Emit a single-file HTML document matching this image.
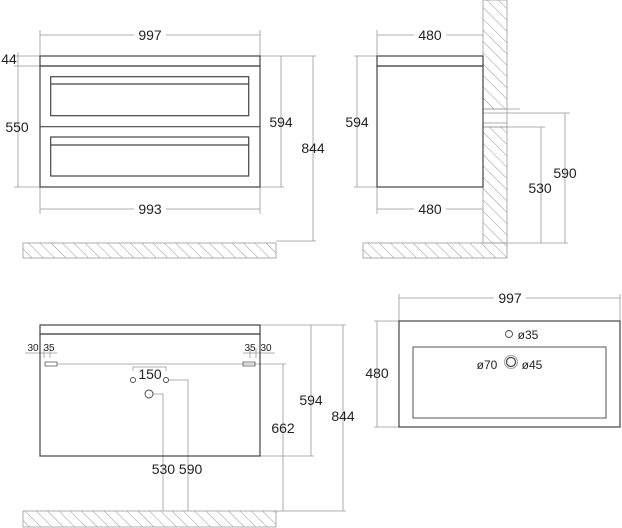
<!DOCTYPE html>
<html><head><style>body{margin:0;background:#fff}svg{display:block}text{font-family:"Liberation Sans",sans-serif;fill:#222}</style></head>
<body>
<svg width="622" height="528" viewBox="0 0 622 528" xmlns="http://www.w3.org/2000/svg">
<defs>
<pattern id="h" width="8" height="8" patternUnits="userSpaceOnUse" patternTransform="rotate(-45)">
<line x1="0" y1="0" x2="0" y2="8" stroke="#999" stroke-width="1"/>
</pattern>
</defs>
<g fill="none" stroke="#999" stroke-width="0.8">
<rect x="23" y="243" width="253" height="15" fill="url(#h)"/>
<rect x="363" y="243" width="144" height="15" fill="url(#h)"/>
<rect x="483" y="0" width="24" height="109" fill="url(#h)"/>
<rect x="483" y="127" width="24" height="116" fill="url(#h)"/>
<line x1="483" y1="109" x2="520" y2="109"/><line x1="483" y1="113" x2="570" y2="113"/>
<line x1="483" y1="123" x2="507" y2="123"/><line x1="483" y1="127" x2="545" y2="127"/>
<line x1="483" y1="109" x2="483" y2="127"/><line x1="507" y1="109" x2="507" y2="127"/>
<rect x="23" y="511" width="253" height="16" fill="url(#h)"/>
<line x1="40" y1="35" x2="260" y2="35"/><line x1="40" y1="30" x2="40" y2="56"/><line x1="260" y1="30" x2="260" y2="56"/>
<line x1="40" y1="209" x2="260" y2="209"/><line x1="40" y1="187" x2="40" y2="214"/><line x1="260" y1="187" x2="260" y2="214"/>
<line x1="18" y1="52" x2="18" y2="187"/><line x1="14" y1="56" x2="40" y2="56"/><line x1="14" y1="66" x2="40" y2="66"/><line x1="14" y1="187" x2="40" y2="187"/>
<line x1="281" y1="56" x2="281" y2="187"/><line x1="260" y1="56" x2="284" y2="56"/><line x1="260" y1="187" x2="284" y2="187"/>
<line x1="313" y1="56" x2="313" y2="241"/><line x1="284" y1="56" x2="316" y2="56"/><line x1="276" y1="241" x2="316" y2="241"/>
<line x1="377" y1="35" x2="483" y2="35"/><line x1="377" y1="30" x2="377" y2="56"/>
<line x1="377" y1="209" x2="483" y2="209"/><line x1="377" y1="187" x2="377" y2="214"/>
<line x1="357" y1="56" x2="357" y2="187"/><line x1="354" y1="56" x2="377" y2="56"/><line x1="354" y1="187" x2="377" y2="187"/>
<line x1="565" y1="113" x2="565" y2="243"/><line x1="541" y1="127" x2="541" y2="243"/><line x1="507" y1="243" x2="568" y2="243"/>
<line x1="25" y1="353" x2="57" y2="353"/><line x1="243" y1="353" x2="275" y2="353"/>
<line x1="44" y1="348" x2="44" y2="358"/><line x1="50" y1="348" x2="50" y2="358"/>
<line x1="250" y1="348" x2="250" y2="358"/><line x1="256" y1="348" x2="256" y2="358"/>
<line x1="57" y1="364" x2="286" y2="364"/>
<polyline points="133,371 133,367 166,367 166,371"/>
<polyline points="169,380 188,380 188,511"/>
<polyline points="153,394 163,394 163,511"/>
<line x1="283" y1="364" x2="283" y2="511"/>
<line x1="260" y1="325" x2="346" y2="325"/><line x1="260" y1="456" x2="314" y2="456"/>
<line x1="311" y1="325" x2="311" y2="456"/><line x1="343" y1="325" x2="343" y2="511"/>
<line x1="276" y1="511" x2="346" y2="511"/>
<line x1="399" y1="298" x2="620" y2="298"/><line x1="399" y1="294" x2="399" y2="321"/><line x1="620" y1="294" x2="620" y2="321"/>
<line x1="377" y1="321" x2="377" y2="427"/><line x1="374" y1="321" x2="399" y2="321"/><line x1="374" y1="427" x2="399" y2="427"/>
</g>
<g fill="none" stroke="#444" stroke-width="1.2">
<rect x="40" y="56" width="220" height="10"/><rect x="40" y="66" width="220" height="121"/>
<line x1="40" y1="126.7" x2="260" y2="126.7"/>
<rect x="50.7" y="76.7" width="198" height="39"/><line x1="50.7" y1="84" x2="248.7" y2="84"/>
<rect x="50.7" y="137" width="198" height="39"/><line x1="50.7" y1="145" x2="248.7" y2="145"/>
<rect x="377" y="56" width="106" height="10"/><rect x="377" y="66" width="106" height="121"/>
<rect x="40" y="325" width="220" height="9"/><rect x="40" y="334" width="220" height="122"/>
<rect x="45" y="362" width="12" height="4" stroke-width="0.7"/><rect x="243" y="362" width="12" height="4" stroke-width="0.7"/>
<circle cx="133" cy="380" r="2.5" stroke-width="0.9"/><circle cx="166" cy="380" r="2.5" stroke-width="0.9"/>
<circle cx="149" cy="394" r="4" stroke-width="0.9"/>
<rect x="399" y="321" width="221" height="106"/>
<rect x="413" y="347" width="193" height="71" stroke-width="0.9"/>
<circle cx="509" cy="334" r="3.5" stroke-width="0.9"/>
<circle cx="511" cy="362" r="6.5" stroke="#aaa"/><circle cx="511" cy="362" r="4.5"/>
</g>
<g font-size="14" text-anchor="middle">
<rect x="134" y="27" width="32" height="15" fill="#fff"/><text x="150" y="40">997</text>
<rect x="134" y="202" width="32" height="15" fill="#fff"/><text x="150" y="214">993</text>
<text x="9" y="64">44</text><text x="17" y="132">550</text>
<text x="281" y="127">594</text><text x="313" y="153">844</text>
<rect x="414" y="27" width="32" height="15" fill="#fff"/><text x="430" y="40">480</text>
<rect x="414" y="202" width="32" height="15" fill="#fff"/><text x="430" y="214">480</text>
<text x="357" y="127">594</text><text x="565" y="178">590</text><text x="540" y="193">530</text>
<text x="150" y="379">150</text><text x="177" y="474">530 590</text>
<text x="283" y="433">662</text><text x="311" y="405">594</text><text x="343" y="421">844</text>
<rect x="494" y="290" width="32" height="15" fill="#fff"/><text x="510" y="303">997</text>
<text x="377" y="378">480</text>
</g>
<g font-size="10" text-anchor="middle">
<text x="33" y="351">30</text><text x="49" y="351">35</text>
<text x="250" y="351">35</text><text x="266" y="351">30</text>
</g>
<g font-size="12" text-anchor="middle">
<text x="528" y="339">ø35</text><text x="487" y="369">ø70</text><text x="532" y="369">ø45</text>
</g>
</svg>
</body></html>
